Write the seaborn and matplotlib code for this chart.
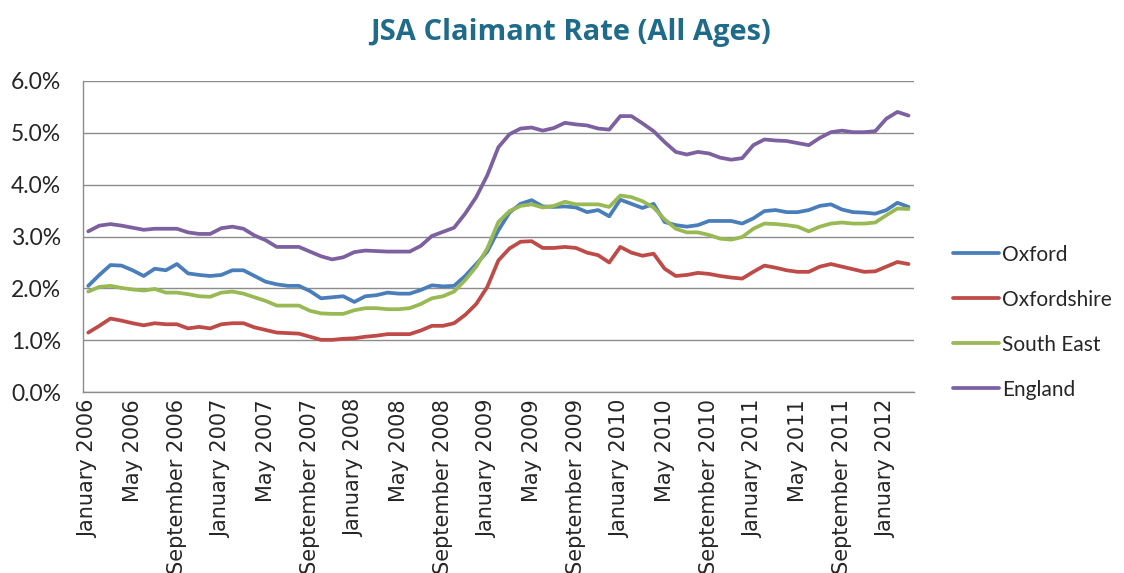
import matplotlib
matplotlib.use('Agg')
import matplotlib.pyplot as plt
import seaborn as sns
import pandas as pd
import numpy as np
from matplotlib.ticker import FuncFormatter, FixedLocator

# Monthly claimant rates (%), January 2006 - March 2012
months = pd.date_range('2006-01-01', periods=75, freq='MS')

oxford = [2.05, 2.26, 2.45, 2.44, 2.35, 2.24, 2.38, 2.35, 2.47, 2.29, 2.26, 2.24, 2.26,
          2.35, 2.35, 2.24, 2.13, 2.08, 2.05, 2.05, 1.95, 1.81, 1.83, 1.85, 1.74, 1.85,
          1.87, 1.92, 1.90, 1.90, 1.97, 2.06, 2.04, 2.05, 2.24, 2.47, 2.71, 3.12,
          3.46, 3.63, 3.70, 3.58, 3.57, 3.58, 3.56, 3.47, 3.51, 3.39, 3.71, 3.63,
          3.55, 3.63, 3.28, 3.22, 3.19, 3.22, 3.30, 3.30, 3.30, 3.25, 3.35, 3.49, 3.51,
          3.47, 3.47, 3.51, 3.59, 3.62, 3.52, 3.47, 3.46, 3.44, 3.51, 3.65, 3.57]

oxfordshire = [1.15, 1.28, 1.42, 1.38, 1.33, 1.29, 1.33, 1.31, 1.31, 1.23, 1.26, 1.23, 1.31,
               1.33, 1.33, 1.25, 1.20, 1.15, 1.14, 1.13, 1.07, 1.01, 1.01, 1.03, 1.04, 1.07,
               1.09, 1.12, 1.12, 1.12, 1.19, 1.28, 1.28, 1.33, 1.49, 1.70, 2.03, 2.54,
               2.77, 2.90, 2.91, 2.78, 2.78, 2.80, 2.78, 2.69, 2.64, 2.50, 2.80, 2.69,
               2.63, 2.67, 2.38, 2.24, 2.26, 2.30, 2.28, 2.24, 2.21, 2.19, 2.32, 2.44, 2.40,
               2.35, 2.32, 2.32, 2.42, 2.47, 2.42, 2.37, 2.32, 2.33, 2.42, 2.51, 2.47]

south_east = [1.94, 2.03, 2.05, 2.01, 1.98, 1.96, 1.99, 1.92, 1.92, 1.89, 1.85, 1.84, 1.92,
              1.94, 1.90, 1.83, 1.76, 1.67, 1.67, 1.67, 1.57, 1.52, 1.51, 1.51, 1.58, 1.62,
              1.62, 1.60, 1.60, 1.62, 1.70, 1.81, 1.85, 1.94, 2.16, 2.42, 2.77, 3.28,
              3.49, 3.59, 3.62, 3.56, 3.59, 3.67, 3.62, 3.62, 3.62, 3.57, 3.79, 3.76,
              3.68, 3.56, 3.33, 3.15, 3.08, 3.08, 3.03, 2.96, 2.94, 2.99, 3.15, 3.25, 3.24,
              3.22, 3.19, 3.10, 3.19, 3.25, 3.27, 3.25, 3.25, 3.27, 3.41, 3.54, 3.53]

england = [3.10, 3.21, 3.24, 3.21, 3.17, 3.13, 3.15, 3.15, 3.15, 3.08, 3.05, 3.05, 3.16,
           3.19, 3.15, 3.02, 2.93, 2.80, 2.80, 2.80, 2.71, 2.62, 2.56, 2.60, 2.70, 2.73,
           2.72, 2.71, 2.71, 2.71, 2.82, 3.01, 3.09, 3.17, 3.44, 3.76, 4.18, 4.72,
           4.97, 5.08, 5.10, 5.04, 5.09, 5.19, 5.16, 5.14, 5.08, 5.06, 5.32, 5.32,
           5.18, 5.03, 4.82, 4.63, 4.58, 4.63, 4.60, 4.52, 4.48, 4.51, 4.76, 4.87, 4.85,
           4.84, 4.80, 4.76, 4.90, 5.01, 5.04, 5.01, 5.01, 5.03, 5.27, 5.40, 5.33]

series_names = ['Oxford', 'Oxfordshire', 'South East', 'England']
colors = ['#4A7EBB', '#BE4B48', '#98B954', '#7D60A0']

df = pd.DataFrame({'month': np.arange(len(months)),
                   'Oxford': oxford, 'Oxfordshire': oxfordshire,
                   'South East': south_east, 'England': england})
long = df.melt(id_vars='month', var_name='Area', value_name='rate')

sns.set_style('white')
plt.rcParams['font.family'] = ['Lato', 'DejaVu Sans']

fig = plt.figure(figsize=(11.24, 5.73), dpi=100)
ax = fig.add_axes([0.0736, 0.3154, 0.8132 - 0.0736, 0.859 - 0.3154])

sns.lineplot(data=long, x='month', y='rate', hue='Area', hue_order=series_names,
             palette=colors, linewidth=2.7, ax=ax)

ax.set_xlim(-0.5, len(months) - 0.5)
ax.set_ylim(0, 6)
ax.set_yticks(np.arange(0, 7, 1))
ax.yaxis.set_major_formatter(FuncFormatter(lambda v, p: f'{v:.1f}%'))
ax.yaxis.grid(True, color='#8C8C8C', linewidth=1)
ax.set_axisbelow(True)

# labels every four months; tick marks sit between categories
label_pos = np.arange(0, len(months), 4)
ax.set_xticks(label_pos)
ax.set_xticklabels([m.strftime('%B %Y') for m in months[label_pos]], rotation=90,
                   family='DejaVu Sans', fontsize=15)
ax.xaxis.set_minor_locator(FixedLocator(label_pos - 0.5))
ax.tick_params(axis='x', which='major', length=0, pad=5)
ax.tick_params(axis='x', which='minor', length=4.5, color='#8C8C8C', width=1)
ax.tick_params(axis='y', length=6.5, color='#8C8C8C', width=1, labelsize=16.5, pad=9)

for side in ['top', 'right']:
    ax.spines[side].set_visible(False)
for side in ['left', 'bottom']:
    ax.spines[side].set_color('#8C8C8C')
    ax.spines[side].set_linewidth(1)

ax.set_xlabel('')
ax.set_ylabel('')

ax.legend(title=None, frameon=False, loc='center left', bbox_to_anchor=(1.024, 0.225),
          fontsize=15, labelspacing=1.2, handlelength=2.2, handletextpad=0.15)

fig.text(0.508, 0.944, 'JSA Claimant Rate (All Ages)', ha='center', va='center',
         fontsize=21, fontweight='bold', color='#1F6B8A', family=['Open Sans', 'DejaVu Sans'])

fig.savefig('out.png', dpi=100)
